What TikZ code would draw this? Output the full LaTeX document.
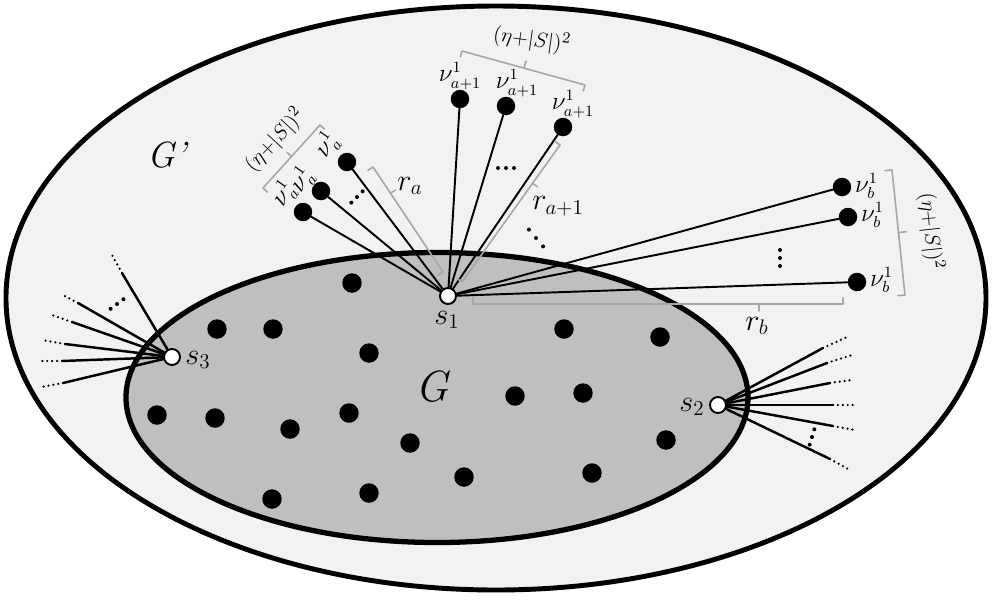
\documentclass[tikz,border=0pt]{standalone}
\usepackage{amsmath,amssymb}
\usetikzlibrary{calc}

\begin{document}
\begin{tikzpicture}[
  x=0.02cm, y=-0.02cm,
  line cap=round,
  line join=round,
  every node/.style={font=\fontsize{13.5}{15}\selectfont, inner sep=1pt},
  hull/.style={line width=2.8pt},
  spoke/.style={line width=1.1pt},
  ray/.style={line width=1.4pt},
  tail/.style={line width=1.4pt, dash pattern=on 0pt off 2.8pt},
  brk/.style={draw=black!35, line width=0.9pt},
  vert/.style={circle, fill=black, inner sep=0pt, minimum size=3.7mm},
  port/.style={circle, draw, fill=white, line width=1.1pt, inner sep=0pt, minimum size=3.2mm},
  blab/.style={font=\fontsize{13}{15}\selectfont},
  slab/.style={font=\fontsize{17}{19}\selectfont},
  rlab/.style={font=\fontsize{18}{20}\selectfont},
  ellip/.pic={\foreach \k in {-1,0,1} \fill (\k*#1,0) circle (2);}
]
\useasboundingbox (0,0) rectangle (992,596);

% ------------------------------------------------------------------
% The two graphs
% ------------------------------------------------------------------
\draw[hull, fill=black!5] (496,298) ellipse [x radius=490, y radius=292];
\draw[hull, line width=3pt, fill=black!25] (437,397.5) ellipse [x radius=311, y radius=145];

\node[font=\huge] (gpr) at (168,155) {\textit{G\textquoteright}};
\node[font=\Huge] (gin) at (433,387) {\textit{G}};

\foreach \x/\y [count=\i] in {352/283, 217/329, 273/329, 369/353, 564/329, 660/337,
                              515/396, 583/393, 157/415, 215/418, 290/429, 349/413,
                              410/443, 666/440, 464/477, 592/473, 272/499, 369/493}
  \node[vert, minimum size=3.9mm] (g\i) at (\x,\y) {};

% ------------------------------------------------------------------
% Terminal s1 and its new vertices
% ------------------------------------------------------------------
\node[port] (s1) at (448,296) {};
\node[slab] (s1l) at (447,320) {$s_1$};

\node[vert] (va1) at (303,212) {};
\node[vert] (va2) at (321,191) {};
\node[vert] (va3) at (347,162) {};
\node[vert] (vp1) at (460,99) {};
\node[vert] (vp2) at (506,106) {};
\node[vert] (vp3) at (563,127) {};
\node[vert] (vb1) at (842,187) {};
\node[vert] (vb2) at (848,217) {};
\node[vert] (vb3) at (857,282) {};

\foreach \t in {va1,va2,va3,vp1,vp2,vp3,vb1,vb2,vb3}
  \draw[spoke] (s1) -- (\t);

\node[rotate=55] (la1) at (284,194) {$\nu^1_a$};
\node[rotate=55] (la2) at (302,180) {$\nu^1_a$};
\node[rotate=55] (la3) at (327,145) {$\nu^1_a$};
\node (lp1) at (460,76) {$\nu^1_{a+1}$};
\node (lp2) at (517,83) {$\nu^1_{a+1}$};
\node (lp3) at (573,104) {$\nu^1_{a+1}$};
\node[anchor=west] (lb1) at (853,186) {$\nu^1_b$};
\node[anchor=west] (lb2) at (859,215) {$\nu^1_b$};
\node[anchor=west] (lb3) at (868,280) {$\nu^1_b$};

\pic[rotate=45] at (357,197) {ellip=8};
\pic at (506,168) {ellip=8};
\pic[rotate=-50] at (536,238) {ellip=11};
\pic[rotate=90] at (780,258) {ellip=8};

% brackets
\draw[brk] (460.4,56.8) -- (462,51) -- (585,85) -- (583.4,90.8);
\draw[brk] (524,68) -- (526,61);
\node[blab, rotate=-8] (kp) at (532,40) {$(\eta{+}|S|)^2$};

\draw[brk] (267.4,192.1) -- (263,188) -- (320,125) -- (324.4,129.1);
\draw[brk] (291.5,156.5) -- (287,152.4);
\node[blab, rotate=47] (ka) at (275,140) {$(\eta{+}|S|)^2$};

\draw[brk] (885,170.7) -- (892,170) -- (905,295) -- (898,295.7);
\draw[brk] (898.5,232.5) -- (906.5,231.7);
\node[blab, rotate=-84] (kb) at (931,231) {$(\eta{+}|S|)^2$};

\draw[brk] (368,170.3) -- (373,167) -- (443,272) -- (438,275.3);
\draw[brk] (390.5,193.3) -- (395.5,190);
\node[rlab] (ra) at (410,186) {$r_a$};

\draw[brk] (555,141.5) -- (560,145) -- (462,282) -- (457,278.5);
\draw[brk] (532.5,183.3) -- (537.4,186.8);
\node[rlab] (rp) at (558,206) {$r_{a+1}$};

\draw[brk] (473,297) -- (473,304) -- (843,304) -- (843,298);
\draw[brk] (759,304) -- (759,311);
\node[rlab] (rb) at (757,326) {$r_b$};

% ------------------------------------------------------------------
% Terminals s2 and s3
% ------------------------------------------------------------------
\node[port] (s2) at (718,405) {};
\node[slab] (s2l) at (692,407) {$s_2$};
\node[port] (s3) at (172,357) {};
\node[slab] (s3l) at (198,360) {$s_3$};

\foreach \xa/\ya/\xb/\yb [count=\i] in {823/348/847/337, 827/363/852/355, 830/383/852/380,
                                        833/405/853/405, 833/426/855/430, 830/459/848/469}{
  \coordinate (t2a\i) at (\xa,\ya);
  \coordinate (t2b\i) at (\xb,\yb);
  \draw[ray] (s2) -- (t2a\i);
  \draw[tail] (t2a\i) -- (t2b\i);
}
\foreach \xa/\ya/\xb/\yb [count=\i] in {122/273/112/255, 78/303/63/295, 72/322/52/315,
                                        65/344/42/340, 62/361/41/361, 63/383/41/387}{
  \coordinate (t3a\i) at (\xa,\ya);
  \coordinate (t3b\i) at (\xb,\yb);
  \draw[ray] (s3) -- (t3a\i);
  \draw[tail] (t3a\i) -- (t3b\i);
}
\pic[rotate=37] at (117,304) {ellip=8};
\pic[rotate=73] at (812,437) {ellip=8};

\end{tikzpicture}
\end{document}
